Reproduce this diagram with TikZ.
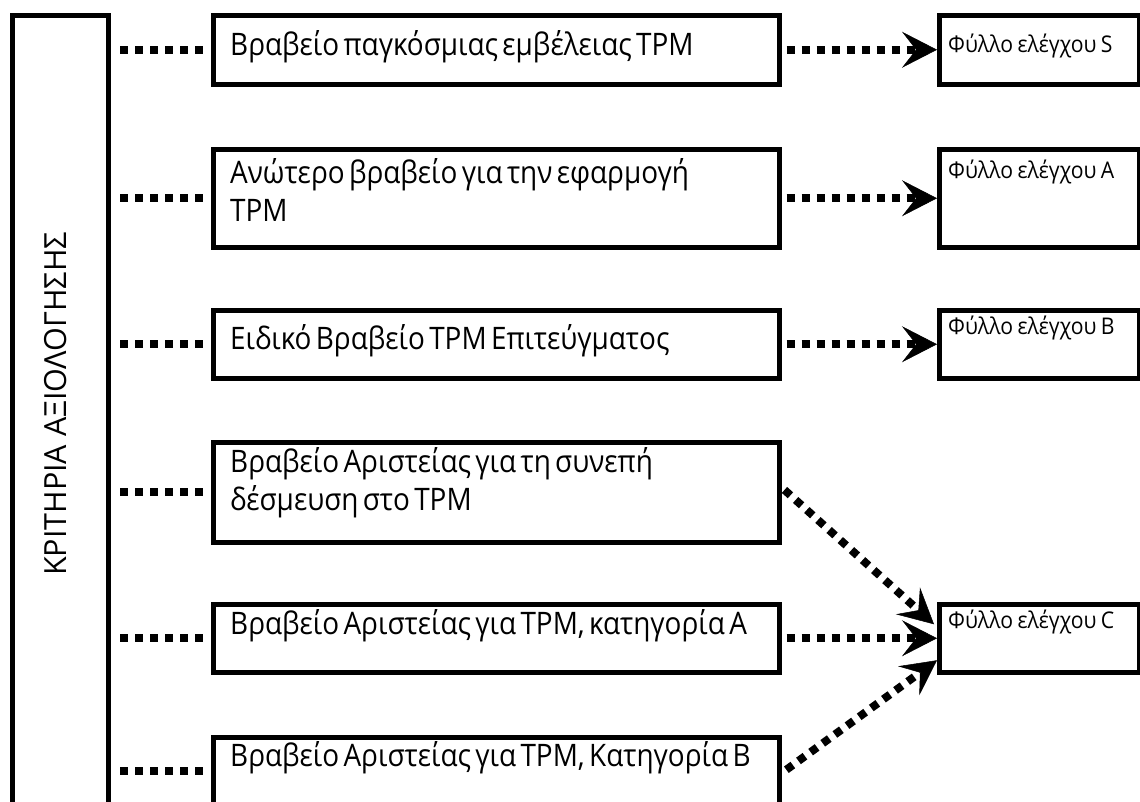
\documentclass[tikz,border=0pt]{standalone}
\usepackage{fontspec}
\setmainfont{Open Sans}
\newfontfamily\mainf{Open Sans}[FakeStretch=0.9, WordSpace=0.6]
\newfontfamily\chkf{Open Sans}[FakeStretch=0.92, WordSpace=0.8]
\usetikzlibrary{arrows.meta}
\tikzset{
  mainbox/.style={draw, line width=4.5pt, anchor=north west, minimum width=566pt, inner sep=0pt},
  maintext/.style={anchor=west, inner sep=0pt, align=left, font=\mainf\fontsize{31}{38}\selectfont},
  chkbox/.style={draw, line width=4.5pt, anchor=north west, minimum width=200pt, inner sep=0pt},
  chktext/.style={anchor=west, inner sep=0pt, font=\chkf\fontsize{23}{27}\selectfont},
  dotline/.style={line width=8pt, dash pattern=on 8pt off 7pt},
  dotarrow/.style={dotline, -{Stealth[length=35pt,width=36pt,inset=14pt,line width=0.5pt]}},
}
\begin{document}
\begin{tikzpicture}[x=1pt,y=-1pt]
\useasboundingbox (0,0) rectangle (1140,801);
% left criteria box
\node[draw, line width=5pt, anchor=north west, minimum width=96pt, minimum height=800pt, inner sep=0pt] (crit) at (10,13) {};
\node[rotate=90, font=\fontsize{30.5}{34}\selectfont, inner sep=0pt] (critlabel) at (56,404) {ΚΡΙΤΗΡΙΑ ΑΞΙΟΛΟΓΗΣΗΣ};
% middle boxes
\node[mainbox, minimum height=69pt] (b1) at (211,13) {};
\node[mainbox, minimum height=98pt] (b2) at (211,147) {};
\node[mainbox, minimum height=68pt] (b3) at (211,308) {};
\node[mainbox, minimum height=100pt] (b4) at (211,440) {};
\node[mainbox, minimum height=68pt] (b5) at (211,602) {};
\node[mainbox, minimum height=68pt] (b6) at (211,735) {};
\node[maintext] (t1) at (230,47) {Βραβείο παγκόσμιας εμβέλειας TPM};
\node[maintext] (t2) at (230,190) {Ανώτερο βραβείο για την εφαρμογή\\TPM};
\node[maintext] (t3) at (230,341) {Ειδικό Βραβείο TPM Επιτεύγματος};
\node[maintext] (t4) at (230,483) {Βραβείο Αριστείας για τη συνεπή\\δέσμευση στο TPM};
\node[maintext] (t5) at (230,626) {Βραβείο Αριστείας για TPM, κατηγορία Α};
\node[maintext] (t6) at (230,758) {Βραβείο Αριστείας για TPM, Κατηγορία Β};
% right check boxes
\node[chkbox, minimum height=69pt] (cS) at (937,13) {};
\node[chkbox, minimum height=98pt] (cA) at (937,147) {};
\node[chkbox, minimum height=68pt] (cB) at (937,308) {};
\node[chkbox, minimum height=68pt] (cC) at (937,602) {};
\node[chktext] (tS) at (948,46) {Φύλλο ελέγχου S};
\node[chktext] (tA) at (948,172) {Φύλλο ελέγχου Α};
\node[chktext] (tB) at (948,328) {Φύλλο ελέγχου Β};
\node[chktext] (tC) at (948,622) {Φύλλο ελέγχου C};
% left dotted connectors
\draw[dotline, shorten <=9pt, shorten >=7pt] (crit.east |- b1.west) -- (b1.west);
\draw[dotline, shorten <=9pt, shorten >=7pt] (crit.east |- b2.west) -- (b2.west);
\draw[dotline, shorten <=9pt, shorten >=7pt] (crit.east |- b3.west) -- (b3.west);
\draw[dotline, shorten <=9pt, shorten >=7pt] (crit.east |- b4.west) -- (b4.west);
\draw[dotline, shorten <=9pt, shorten >=7pt] (crit.east |- b5.west) -- (b5.west);
\draw[dotline, shorten <=9pt, shorten >=7pt] (crit.east |- b6.west) -- (b6.west);
% right dotted arrows
\draw[dotarrow, shorten <=5pt] (b1.east) -- (cS.west |- b1.east);
\draw[dotarrow, shorten <=5pt] (b2.east) -- (cA.west |- b2.east);
\draw[dotarrow, shorten <=5pt] (b3.east) -- (cB.west |- b3.east);
\draw[dotarrow, shorten <=5pt] (b5.east) -- (cC.west |- b5.east);
\draw[dotarrow, shorten <=4pt] ([yshift=5pt]b4.east) -- ([xshift=-3pt,yshift=14pt]cC.west);
\draw[dotarrow, shorten <=6pt] ([yshift=-2pt]b6.east) -- ([yshift=-22pt]cC.west);
\end{tikzpicture}
\end{document}
